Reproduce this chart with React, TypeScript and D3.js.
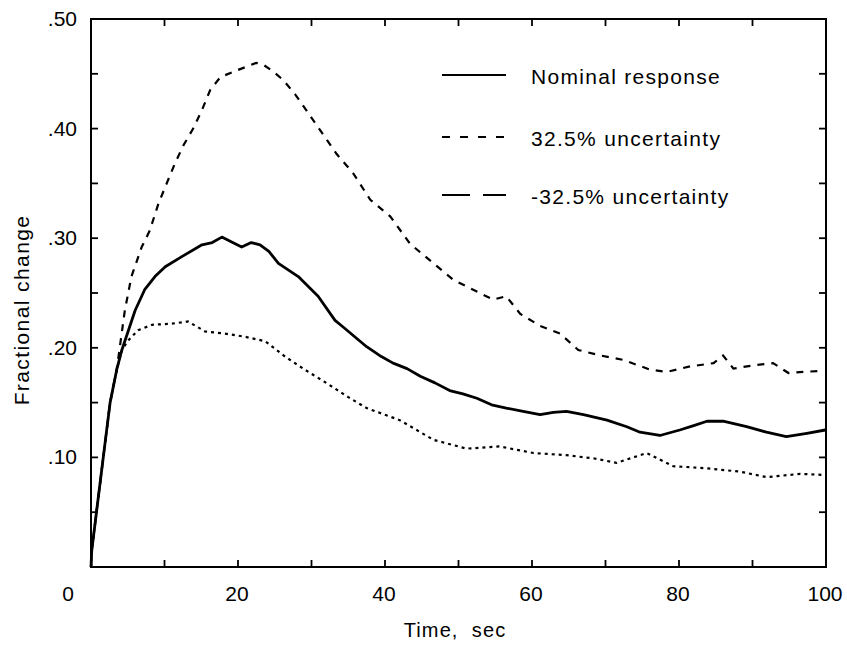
import React from "react";
import * as d3 from "d3";

const nominalT = [0, 0.1, 0.78, 1.67, 2.6, 3.5, 4.2, 5.1, 6.0, 7.3, 8.7, 10.1, 12.3, 15.1, 16.5, 17.8, 19.0, 20.5, 21.8, 23, 24.2, 25.5, 28.2, 30.9, 33.2, 34.3, 37.5, 39.5, 41.1, 43.0, 44.8, 46.8, 48.8, 50.6, 52.5, 54.5, 56.5, 58.8, 61.1, 62.9, 64.7, 67, 70.2, 72.9, 74.7, 77.4, 80.1, 82.0, 83.8, 86, 89.2, 91.9, 94.6, 97.4, 99.9];
const nominalV = [0, 0.015, 0.052, 0.10, 0.15, 0.18, 0.198, 0.216, 0.234, 0.253, 0.265, 0.274, 0.283, 0.294, 0.296, 0.301, 0.297, 0.292, 0.296, 0.294, 0.288, 0.277, 0.265, 0.247, 0.225, 0.219, 0.201, 0.192, 0.186, 0.181, 0.174, 0.168, 0.161, 0.158, 0.154, 0.148, 0.145, 0.142, 0.139, 0.141, 0.142, 0.139, 0.134, 0.128, 0.123, 0.120, 0.125, 0.129, 0.133, 0.133, 0.128, 0.123, 0.119, 0.122, 0.125];

const upperT = [0, 0.1, 0.78, 1.67, 2.6, 3.5, 4.6, 5.5, 6.9, 8.0, 9.2, 10.3, 11.4, 12.6, 13.9, 15.1, 16.2, 17.6, 19.8, 22.5, 23.5, 24.8, 26.2, 27.8, 30.5, 33.4, 35.7, 38, 40.7, 43.4, 46.6, 49.3, 52, 54.7, 56.5, 58.4, 61.1, 63.8, 66.3, 69.3, 72.4, 76.1, 78.3, 81.5, 84.7, 86, 87.4, 90.1, 92.8, 94.9, 96.9, 99.6];
const upperV = [0, 0.015, 0.052, 0.10, 0.15, 0.18, 0.234, 0.265, 0.292, 0.307, 0.332, 0.35, 0.368, 0.385, 0.40, 0.417, 0.435, 0.447, 0.453, 0.460, 0.458, 0.452, 0.444, 0.431, 0.405, 0.377, 0.359, 0.335, 0.320, 0.295, 0.277, 0.262, 0.253, 0.244, 0.247, 0.231, 0.220, 0.213, 0.198, 0.193, 0.189, 0.180, 0.178, 0.183, 0.186, 0.193, 0.181, 0.184, 0.186, 0.177, 0.178, 0.179];

const lowerT = [0, 0.1, 0.78, 1.67, 2.6, 3.5, 4.2, 5.1, 6.4, 8.3, 11, 13.2, 15.5, 18.2, 21, 23.7, 26.4, 29.1, 32, 35, 37.5, 42, 46.6, 51.1, 55.6, 60.2, 64.7, 68.5, 71.5, 75.6, 79.2, 83.8, 88.3, 91.9, 96.5, 99.6];
const lowerV = [0, 0.015, 0.052, 0.10, 0.15, 0.18, 0.198, 0.207, 0.216, 0.221, 0.222, 0.224, 0.215, 0.213, 0.210, 0.206, 0.192, 0.18, 0.168, 0.155, 0.145, 0.134, 0.116, 0.108, 0.110, 0.104, 0.102, 0.099, 0.095, 0.104, 0.092, 0.090, 0.087, 0.082, 0.085, 0.084];

const xTickValues = [0, 20, 40, 60, 80, 100];
const xTickLabels = ["0", "20", "40", "60", "80", "100"];
const yTickValues = [0.1, 0.2, 0.3, 0.4, 0.5];
const yTickLabels = [".10", ".20", ".30", ".40", ".50"];
const legendLabels = ["Nominal response", "32.5% uncertainty", "-32.5% uncertainty"];

export default function App() {
  const W = 847, H = 650;
  const left = 91, right = 826, top = 19, bottom = 567;
  const x = d3.scaleLinear().domain([0, 100]).range([left, right]);
  const y = d3.scaleLinear().domain([0, 0.5]).range([bottom, top]);
  const line = d3.line<[number, number]>().x(d => x(d[0])).y(d => y(d[1]));
  const zip = (a: number[], b: number[]) => a.map((t, i) => [t, b[i]] as [number, number]);

  const minorX = d3.range(10, 100, 10);
  const minorY = d3.range(0.05, 0.5, 0.05);
  const tl = 7;
  const font = "'Liberation Sans', Arial, Helvetica, sans-serif";

  const legendY = [75, 137, 195];
  const legendDash = ["none", "8 10", "28 13"];

  return (
    <svg width={W} height={H} style={{ position: "absolute", left: 0, top: 0, background: "#fff" }} fontFamily={font}>
      <rect x={left} y={top} width={right - left} height={bottom - top} fill="none" stroke="#000" strokeWidth={2} />
      {minorX.map(v => (
        <g key={"xt" + v}>
          <line x1={x(v)} x2={x(v)} y1={bottom} y2={bottom - tl} stroke="#000" strokeWidth={1.8} />
          <line x1={x(v)} x2={x(v)} y1={top} y2={top + tl} stroke="#000" strokeWidth={1.8} />
        </g>
      ))}
      {minorY.map(v => (
        <g key={"yt" + v}>
          <line x1={left} x2={left + tl} y1={y(v)} y2={y(v)} stroke="#000" strokeWidth={1.8} />
          <line x1={right} x2={right - tl} y1={y(v)} y2={y(v)} stroke="#000" strokeWidth={1.8} />
        </g>
      ))}
      {xTickValues.map((v, i) => (
        <text key={"xl" + v} x={v === 0 ? 68 : x(v) - 1} y={601} textAnchor="middle" fontSize={21} fill="#000">{xTickLabels[i]}</text>
      ))}
      {yTickValues.map((v, i) => (
        <text key={"yl" + v} x={77} y={y(v) + 7} textAnchor="end" fontSize={21} fill="#000">{yTickLabels[i]}</text>
      ))}
      <text x={455} y={637} textAnchor="middle" fontSize={20} letterSpacing={1.1} fill="#000" style={{ whiteSpace: "pre" }}>{"Time,  sec"}</text>
      <text transform="translate(29,310) rotate(-90)" textAnchor="middle" fontSize={21} letterSpacing={1.4} fill="#000">Fractional change</text>

      <path d={line(zip(lowerT, lowerV)) || ""} fill="none" stroke="#000" strokeWidth={2.2} strokeDasharray="3 4" />
      <path d={line(zip(upperT, upperV)) || ""} fill="none" stroke="#000" strokeWidth={2.2} strokeDasharray="7 7" />
      <path d={line(zip(nominalT, nominalV)) || ""} fill="none" stroke="#000" strokeWidth={2.8} strokeLinejoin="round" />

      {legendLabels.map((lab, i) => (
        <g key={lab}>
          <line x1={442} x2={506} y1={legendY[i]} y2={legendY[i]} stroke="#000" strokeWidth={2} strokeDasharray={legendDash[i]} />
          <text x={531} y={legendY[i] + 9} fontSize={21} letterSpacing={1.3} fill="#000">{lab}</text>
        </g>
      ))}
    </svg>
  );
}
